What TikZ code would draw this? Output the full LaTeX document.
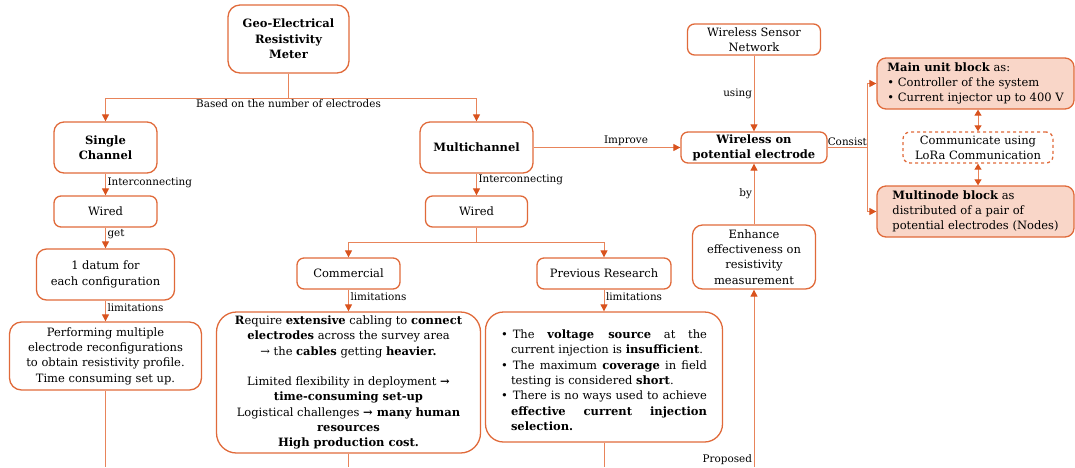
\documentclass[tikz,border=0pt]{standalone}
\usepackage{fontspec}
\setmainfont{DejaVu Serif}
\usetikzlibrary{arrows.meta,positioning}
\definecolor{edgeorange}{HTML}{E06A3A}
\definecolor{tiporange}{HTML}{D9531E}
\definecolor{lineorange}{HTML}{E8845A}
\definecolor{blockfill}{HTML}{F9D6C8}

\begin{document}
\begin{tikzpicture}[x=1pt,y=-1pt,on grid,
	box/.style={draw=edgeorange,line width=1.3pt,rounded corners=7pt,align=center,inner sep=2pt,font=\fontsize{11.5}{15.3}\selectfont},
	head/.style={box,font=\fontsize{11.5}{15.3}\selectfont\bfseries},
	block/.style={box,fill=blockfill,align=left,minimum width=197pt,minimum height=51pt,rounded corners=9pt},
	link/.style={draw=lineorange,line width=1pt},
	arr/.style={link,-{Triangle[length=7pt,width=7pt,color=tiporange]}},
	dblarr/.style={link,{Triangle[length=6pt,width=7pt,color=tiporange]}-{Triangle[length=6pt,width=7pt,color=tiporange]}},
	lbl/.style={font=\fontsize{10.4}{12}\selectfont,inner sep=1.5pt,text=black}]
	\useasboundingbox (0,0) rectangle (1075,467);
	\coordinate (bottom) at (0,467);

	% left and middle branches
	\node[head,minimum width=121pt,minimum height=68pt,rounded corners=12pt] (geo) at (288.5,39) {Geo-Electrical\\Resistivity\\Meter};
	\node[head,minimum width=103pt,minimum height=51pt,rounded corners=10pt,below left=108.5pt and 183pt of geo] (single) {Single\\Channel};
	\node[head,minimum width=113pt,minimum height=51pt,rounded corners=10pt,below right=108.5pt and 188pt of geo] (multi) {Multichannel};
	\node[box,minimum width=103pt,minimum height=31pt,below=64pt of single] (wiredA) {Wired};
	\node[box,minimum width=138pt,minimum height=51pt,rounded corners=10pt,below=63pt of wiredA] (datum) {1 datum for\\each configuration};
	\node[box,minimum width=192pt,minimum height=68pt,rounded corners=12pt,below=81.5pt of datum] (perform) {Performing multiple\\electrode reconfigurations\\to obtain resistivity profile.\\Time consuming set up.};
	\node[box,minimum width=102pt,minimum height=31pt,below=64pt of multi] (wiredB) {Wired};
	\node[box,minimum width=103pt,minimum height=31pt,below left=62pt and 128pt of wiredB] (comm) {Commercial};
	\node[box,minimum width=134pt,minimum height=31pt,below right=62pt and 127.5pt of wiredB] (prev) {Previous Research};
	\node[box,minimum width=264pt,minimum height=141pt,rounded corners=20pt,below=109pt of comm] (commlim) {\textbf{R}equire \textbf{extensive} cabling to \textbf{connect}\\
		\textbf{electrodes} across the survey area\\
		→ the \textbf{cables} getting \textbf{heavier.}\\[15.3pt]
		Limited flexibility in deployment \textbf{→}\\
		\textbf{time-consuming set-up}\\
		Logistical challenges \textbf{→ many human}\\
		\textbf{resources}\\
		\textbf{High production cost.}};
	\node[box,minimum width=237pt,minimum height=130pt,rounded corners=18pt,text width=206pt,align=justify,below=103.5pt of prev] (prevlim) {%
		\hyphenpenalty=10000
		\begin{list}{\textbullet}{\setlength\leftmargin{10pt}\setlength\labelwidth{5pt}\setlength\labelsep{5pt}%
			\setlength\itemsep{0pt}\setlength\parsep{0pt}\setlength\topsep{0pt}\setlength\partopsep{0pt}}
		\item The \textbf{voltage source} at the\linebreak current injection is \textbf{insufficient}.
		\item The maximum \textbf{coverage} in field\linebreak testing is considered \textbf{short}.
		\item There is no ways used to achieve\linebreak \textbf{effective current injection}\linebreak \textbf{selection.}
		\end{list}};

	% right part
	\node[head,minimum width=146pt,minimum height=31pt,right=277.5pt of multi] (wope) {Wireless on\\potential electrode};
	\node[box,minimum width=133pt,minimum height=31pt,above=108pt of wope] (wsn) {Wireless Sensor\\Network};
	\node[box,minimum width=123pt,minimum height=64pt,rounded corners=10pt,below=109.5pt of wope] (enh) {Enhance\\effectiveness on\\resistivity\\measurement};
	\node[block,above right=64pt and 221.5pt of wope] (mainblk) {\textbf{Main unit block} as:\\\textbullet\ Controller of the system\\\textbullet\ Current injector up to 400 V};
	\node[box,dashed,minimum width=150pt,minimum height=31pt,right=224pt of wope] (lora) {Communicate using\\LoRa Communication};
	\node[block,below right=64pt and 221.5pt of wope] (multiblk) {\textbf{Multinode block} as\\distributed of a pair of\\potential electrodes (Nodes)};

	\coordinate (split1) at (geo.south |- 0,98);
	\coordinate (split2) at (wiredB.south |- 0,242);
	\coordinate (split3) at (867,147.5);

	\draw[link] (geo) -- (split1);
	\draw[arr] (split1) -| (single);
	\draw[arr] (split1) -| (multi);
	\node[lbl,below] at (split1) {Based on the number of electrodes};
	\path (single) edge[arr] node[lbl,right,pos=0.4] {Interconnecting} (wiredA)
		(wiredA) edge[arr] node[lbl,right,pos=0.3] {get} (datum)
		(datum) edge[arr] node[lbl,right,pos=0.35] {limitations} (perform)
		(perform) edge[link] (perform.south |- bottom)
		(multi) edge[arr] node[lbl,right,pos=0.3] {Interconnecting} (wiredB)
		(comm) edge[arr] node[lbl,right,pos=0.3] {limitations} (commlim)
		(prev) edge[arr] node[lbl,right,pos=0.3] {limitations} (prevlim)
		(commlim) edge[link] (commlim.south |- bottom)
		(prevlim) edge[link] (prevlim.south |- bottom);
	\draw[link] (wiredB) -- (split2);
	\draw[arr] (split2) -| (comm);
	\draw[arr] (split2) -| (prev);

	\path (multi) edge[arr] node[lbl,above,pos=0.63] {Improve} (wope)
		(wsn) edge[arr] node[lbl,left] {using} (wope)
		(enh) edge[arr] node[lbl,left] {by} (wope)
		(enh.south |- bottom) edge[arr] node[lbl,left,pos=0.04] {Proposed} (enh)
		(wope) edge[link] node[lbl,above] {Consist} (split3);
	\draw[arr] (split3) |- (mainblk);
	\draw[arr] (split3) |- (multiblk);
	\draw[dblarr] (lora.north) -- (lora.north |- mainblk.south);
	\draw[dblarr] (lora.south) -- (lora.south |- multiblk.north);
\end{tikzpicture}
\end{document}
